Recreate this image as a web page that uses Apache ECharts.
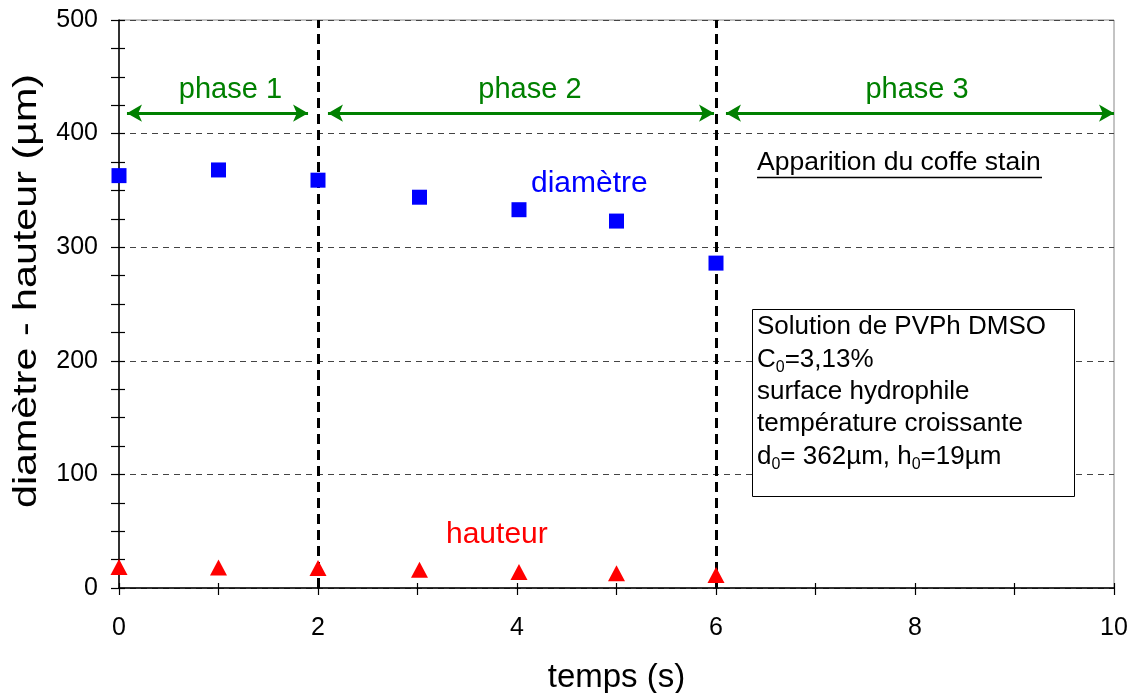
<!DOCTYPE html>
<html><head><meta charset="utf-8">
<script src="https://cdn.jsdelivr.net/npm/echarts@6/dist/echarts.min.js"></script>
<style>html,body{margin:0;padding:0;background:#fff}#c{width:1136px;height:693px}</style>
</head><body><div id="c"></div>
<script>
const temps = [0, 1, 2, 3.02, 4.02, 5, 6];
const diametre = [363, 368, 359, 344, 333, 323, 286];
const hauteur = [18.5, 18, 17.5, 16, 14, 13, 11.5];
const phaseBounds = [2, 6];
const phaseArrows = [[0.08, 1.9], [2.1, 5.98], [6.1, 10]];
const arrowY = 418;
const phaseNames = ['phase 1', 'phase 2', 'phase 3'];
const phaseLabelX = [1.12, 4.13, 8.02];
const phaseLabelY = 438;
const xTicks = {min: 0, max: 10, interval: 2};
const yTicks = {min: 0, max: 500, interval: 100};

const F = 'Liberation Sans, Arial, sans-serif';
const chart = echarts.init(document.getElementById('c'), null, {renderer: 'canvas'});
const pts = (xs, ys) => xs.map((x, i) => [x, ys[i]]);
const tickStyle = {color: '#000', width: 1.2};

chart.setOption({
  animation: false,
  backgroundColor: '#fff',
  grid: {left: 119, right: 22, top: 20, bottom: 105, show: true, borderColor: '#888', borderWidth: 1, outerBoundsMode: 'none', containLabel: false},
  xAxis: [{
    type: 'value', min: xTicks.min, max: xTicks.max, interval: xTicks.interval,
    name: 'temps (s)', nameLocation: 'middle', nameGap: 73,
    nameTextStyle: {fontFamily: F, fontSize: 33, color: '#000'},
    axisLine: {onZero: false, lineStyle: {color: '#000', width: 1.5}},
    axisTick: {show: true, length: 7, lineStyle: tickStyle},
    minorTick: {show: true, splitNumber: 2, length: 7, lineStyle: tickStyle},
    axisLabel: {fontFamily: F, fontSize: 25, color: '#000', margin: 28},
    splitLine: {show: false}
  }, {
    type: 'value', min: xTicks.min, max: xTicks.max, interval: xTicks.interval, position: 'bottom',
    axisLine: {show: false},
    axisTick: {show: true, inside: true, length: 5, lineStyle: tickStyle},
    minorTick: {show: true, splitNumber: 2, length: 5, lineStyle: tickStyle},
    axisLabel: {show: false}, splitLine: {show: false}
  }],
  yAxis: [{
    type: 'value', min: yTicks.min, max: yTicks.max, interval: yTicks.interval,
    axisLine: {show: true, onZero: false, lineStyle: {color: '#000', width: 1.5}},
    axisTick: {show: true, length: 8, lineStyle: tickStyle},
    minorTick: {show: true, splitNumber: 4, length: 8, lineStyle: tickStyle},
    axisLabel: {fontFamily: F, fontSize: 25, color: '#000', margin: 21},
    splitLine: {show: true, lineStyle: {color: '#444', width: 1, type: [6, 5]}}
  }, {
    type: 'value', min: yTicks.min, max: yTicks.max, interval: yTicks.interval, position: 'left',
    axisLine: {show: false},
    axisTick: {show: true, inside: true, length: 6, lineStyle: tickStyle},
    minorTick: {show: true, splitNumber: 4, length: 6, lineStyle: tickStyle},
    axisLabel: {show: false}, splitLine: {show: false}
  }],
  series: [
    {
      name: 'phases', type: 'scatter', symbolSize: 0, silent: true,
      itemStyle: {opacity: 1},
      data: phaseNames.map((n, i) => ({value: [phaseLabelX[i], phaseLabelY], name: n})),
      label: {show: true, position: 'inside', formatter: p => p.name, fontFamily: F, fontSize: 29, color: '#008000', opacity: 1},
      markLine: {
        silent: true, animation: false, symbol: ['none', 'none'],
        data: [
          ...phaseBounds.map(x => ({xAxis: x, lineStyle: {color: '#000', width: 3, type: [10, 6]}, label: {show: false}})),
          ...phaseArrows.map(a => [
            {coord: [a[0], arrowY], symbol: 'arrow', symbolSize: [13, 15], lineStyle: {color: '#008000', width: 3, type: 'solid'}, label: {show: false}},
            {coord: [a[1], arrowY], symbol: 'arrow', symbolSize: [13, 15]}
          ])
        ]
      }
    },
    {name: 'diamètre', type: 'scatter', symbol: 'rect', symbolSize: 15, itemStyle: {color: '#0000FF', opacity: 1}, data: pts(temps, diametre), z: 5},
    {name: 'hauteur', type: 'scatter', symbol: 'triangle', symbolSize: [17, 16], itemStyle: {color: '#FF0000', opacity: 1}, data: pts(temps, hauteur), z: 5}
  ],
  graphic: [
    {type: 'text', x: 27, y: 291, rotation: Math.PI / 2, scaleX: 1.25, style: {text: 'diamètre - hauteur (µm)', fontFamily: F, fontSize: 33, fill: '#000', align: 'center', verticalAlign: 'middle'}},
    {type: 'text', left: 531, top: 169, style: {text: 'diamètre', fontFamily: F, fontSize: 30, fill: '#0000FF'}},
    {type: 'text', left: 446, top: 520, style: {text: 'hauteur', fontFamily: F, fontSize: 30, fill: '#FF0000'}},
    {type: 'text', left: 757, top: 149, style: {text: 'Apparition du coffe stain', fontFamily: F, fontSize: 26.5, fill: '#000'}},
    {type: 'line', shape: {x1: 757, y1: 177.5, x2: 1042, y2: 177.5}, style: {stroke: '#000', lineWidth: 1.5}},
    {type: 'rect', shape: {x: 752.5, y: 309.5, width: 322, height: 187}, style: {fill: '#fff', stroke: '#000', lineWidth: 1}, z: 10},
    {type: 'text', left: 757, top: 311, z: 11, style: {
      text: 'Solution de PVPh DMSO\nC{s|0}=3,13%\nsurface hydrophile\ntempérature croissante\nd{s|0}= 362µm, h{s|0}=19µm',
      fontFamily: F, fontSize: 26, fill: '#000', lineHeight: 32.3,
      rich: {s: {fontFamily: F, fontSize: 16, fill: '#000', lineHeight: 16, verticalAlign: 'bottom'}}
    }}
  ]
});
</script></body></html>
